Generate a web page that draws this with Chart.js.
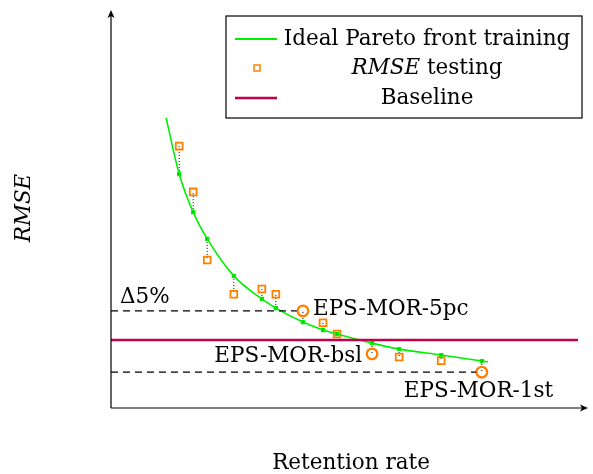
<!DOCTYPE html>
<html>
<head>
<meta charset="utf-8">
<script src="https://cdn.jsdelivr.net/npm/chart.js@4/dist/chart.umd.min.js"></script>
<style>
  html, body { margin: 0; padding: 0; background: #fff; }
  #wrap { width: 593px; height: 474px; }
</style>
</head>
<body>
<div id="wrap"><canvas id="pareto"></canvas></div>
<script>
// schematic values (arbitrary units, no ticks on the original)
const retention = [14.6, 17.6, 20.6, 26.3, 32.3, 35.3, 41.1, 45.4, 48.4, 55.9, 61.7, 70.7, 79.4];
const rmseTrain = [58.8, 49.2, 42.5, 33.2, 27.4, 25.1, 21.6, 19.6, 18.6, 16.3, 14.8, 13.3, 11.8];
const rmseTest  = [65.8, 54.3, 37.2, 28.6, 29.9, 28.6, 24.4, 21.4, 18.6, 13.6, 12.8, 11.9, 9.0];
const curveRetention = [11.8, ...retention, 80.7];
const curveRmse      = [72.9, ...rmseTrain, 11.6];
const baselineRmse = 17.1;
const marked = { 6: 'EPS-MOR-5pc', 9: 'EPS-MOR-bsl', 12: 'EPS-MOR-1st' };

const GREEN = '#00f000';
const ORANGE = '#ff8000';
const CRIMSON = '#c2004b';
const FONT = '"DejaVu Serif", serif';
const SIZE = 21.5;

const pts = (xs, ys) => xs.map((x, i) => ({ x: x, y: ys[i] }));
const isMarked = i => marked[i] !== undefined;

// 5pc and 1st thresholds reach the marked points
const thr5 = rmseTest[6], thr1 = rmseTest[12];

const extras = {
  id: 'extras',
  beforeDatasetsDraw(chart) {
    const { ctx, scales: { x, y } } = chart;
    ctx.save();
    ctx.strokeStyle = '#000';
    ctx.lineWidth = 1;
    ctx.setLineDash([1, 2]);
    retention.forEach((r, i) => {
      ctx.beginPath();
      ctx.moveTo(x.getPixelForValue(r), y.getPixelForValue(rmseTrain[i]));
      ctx.lineTo(x.getPixelForValue(r), y.getPixelForValue(rmseTest[i]));
      ctx.stroke();
    });
    ctx.restore();
  },
  afterDraw(chart) {
    const { ctx, chartArea: a, scales: { x, y } } = chart;
    const roman = SIZE + 'px ' + FONT, italic = 'italic ' + SIZE + 'px ' + FONT;
    ctx.save();
    // axes with arrows
    const xEnd = a.right + 10;
    ctx.strokeStyle = '#000';
    ctx.fillStyle = '#000';
    ctx.lineWidth = 1.2;
    ctx.beginPath();
    ctx.moveTo(a.left, a.bottom); ctx.lineTo(a.left, a.top + 2);
    ctx.moveTo(a.left, a.bottom); ctx.lineTo(xEnd - 3, a.bottom);
    ctx.stroke();
    ctx.beginPath();
    ctx.moveTo(a.left, a.top); ctx.lineTo(a.left - 3.5, a.top + 8); ctx.lineTo(a.left, a.top + 6); ctx.lineTo(a.left + 3.5, a.top + 8);
    ctx.closePath(); ctx.fill();
    ctx.beginPath();
    ctx.moveTo(xEnd, a.bottom); ctx.lineTo(xEnd - 8, a.bottom - 3.5); ctx.lineTo(xEnd - 6, a.bottom); ctx.lineTo(xEnd - 8, a.bottom + 3.5);
    ctx.closePath(); ctx.fill();

    // axis titles
    ctx.font = roman;
    ctx.textAlign = 'center';
    ctx.textBaseline = 'middle';
    ctx.fillText('Retention rate', 351, 463);
    ctx.save();
    ctx.translate(24, 208);
    ctx.rotate(-Math.PI / 2);
    ctx.font = italic;
    ctx.fillText('RMSE', 0, 0);
    ctx.restore();

    // annotations
    ctx.font = roman;
    ctx.textAlign = 'left';
    ctx.fillText('\u03945%', a.left + 9, y.getPixelForValue(thr5) - 13);
    ctx.fillText(marked[6], x.getPixelForValue(retention[6]) + 10, y.getPixelForValue(rmseTest[6]) - 1);
    ctx.textAlign = 'right';
    ctx.fillText(marked[9], x.getPixelForValue(retention[9]) - 10, y.getPixelForValue(rmseTest[9]) + 3);
    ctx.textAlign = 'left';
    ctx.fillText(marked[12], x.getPixelForValue(retention[12]) - 78, y.getPixelForValue(rmseTest[12]) + 19);

    // legend
    const bx = 226, by = 16, bw = 356, bh = 102, cx = 427;
    ctx.fillStyle = '#fff';
    ctx.fillRect(bx, by, bw, bh);
    ctx.strokeStyle = '#000';
    ctx.lineWidth = 1.2;
    ctx.strokeRect(bx, by, bw, bh);
    ctx.lineWidth = 2;
    ctx.strokeStyle = GREEN;
    ctx.beginPath(); ctx.moveTo(235, 39); ctx.lineTo(277, 39); ctx.stroke();
    ctx.strokeStyle = CRIMSON;
    ctx.lineWidth = 2.5;
    ctx.beginPath(); ctx.moveTo(235, 98); ctx.lineTo(277, 98); ctx.stroke();
    ctx.strokeStyle = ORANGE;
    ctx.lineWidth = 1.5;
    ctx.fillStyle = '#fff';
    ctx.fillRect(254, 65, 6, 6);
    ctx.strokeRect(254, 65, 6, 6);
    ctx.fillStyle = '#000';
    ctx.textAlign = 'center';
    ctx.fillText('Ideal Pareto front training', cx, 39);
    ctx.fillText('Baseline', cx, 98);
    ctx.font = italic;
    const w1 = ctx.measureText('RMSE').width;
    ctx.font = roman;
    const w2 = ctx.measureText(' testing').width;
    ctx.textAlign = 'left';
    const sx = cx - (w1 + w2) / 2;
    ctx.font = italic;
    ctx.fillText('RMSE', sx, 68);
    ctx.font = roman;
    ctx.fillText(' testing', sx + w1, 68);
    ctx.restore();
  }
};

new Chart(document.getElementById('pareto'), {
  type: 'scatter',
  data: {
    datasets: [
      {
        label: 'Baseline',
        type: 'line',
        data: [{ x: 0, y: baselineRmse }, { x: 100, y: baselineRmse }],
        borderColor: CRIMSON,
        borderWidth: 2.5,
        pointRadius: 0
      },
      {
        label: '5pc',
        type: 'line',
        data: [{ x: 0, y: thr5 }, { x: 39.8, y: thr5 }],
        borderColor: '#000',
        borderWidth: 1.2,
        borderDash: [7, 5],
        pointRadius: 0
      },
      {
        label: '1st',
        type: 'line',
        data: [{ x: 0, y: thr1 }, { x: 78.2, y: thr1 }],
        borderColor: '#000',
        borderWidth: 1.2,
        borderDash: [7, 5],
        pointRadius: 0
      },
      {
        label: 'Ideal Pareto front training',
        type: 'line',
        data: pts(curveRetention, curveRmse),
        borderColor: GREEN,
        borderWidth: 1.6,
        cubicInterpolationMode: 'monotone',
        pointRadius: 0
      },
      {
        label: 'training points',
        data: pts(retention, rmseTrain),
        pointStyle: 'rect',
        pointRadius: 2.2,
        pointBackgroundColor: '#006000',
        pointBorderColor: GREEN,
        pointBorderWidth: 1.2
      },
      {
        label: 'RMSE testing',
        data: pts(retention, rmseTest),
        pointStyle: retention.map((r, i) => isMarked(i) ? 'circle' : 'rect'),
        pointRadius: retention.map((r, i) => isMarked(i) ? 5.3 : 4.8),
        pointBackgroundColor: 'rgba(255,255,255,0)',
        pointBorderColor: ORANGE,
        pointBorderWidth: retention.map((r, i) => isMarked(i) ? 2.3 : 1.8)
      }
    ]
  },
  options: {
    responsive: true,
    maintainAspectRatio: false,
    animation: false,
    layout: { padding: { left: 111, right: 15, top: 10, bottom: 66 } },
    scales: {
      x: { type: 'linear', min: 0, max: 100, display: false },
      y: { type: 'linear', min: 0, max: 100, display: false }
    },
    plugins: {
      legend: { display: false },
      tooltip: { enabled: false }
    }
  },
  plugins: [extras]
});
</script>
</body>
</html>
